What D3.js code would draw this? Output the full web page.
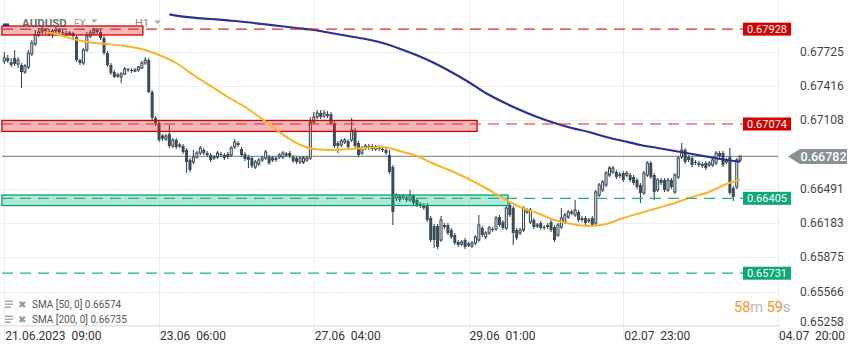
<!DOCTYPE html>
<html><head><meta charset="utf-8">
<script src="https://cdn.jsdelivr.net/npm/d3@7"></script>
<style>
body{margin:0;background:#fff;}
svg{display:block;font-family:Roboto,"Noto Sans",sans-serif;}
</style>
</head><body>
<svg id="c" width="859" height="352"></svg>
<script>
// ---------------- DATA ----------------
const open=[
0.67641,0.67668,0.67632,0.67668,0.67614,0.67605,0.67542,0.67587,0.67704,0.67794,
0.67875,0.67902,0.67920,0.67911,0.67893,0.67911,0.67920,0.67902,0.67893,0.67884,
0.67893,0.67857,0.67650,0.67623,0.67740,0.67866,0.67893,0.67920,0.67902,0.67848,
0.67713,0.67605,0.67542,0.67506,0.67497,0.67524,0.67569,0.67560,0.67551,0.67560,
0.67578,0.67623,0.67650,0.67362,0.67128,0.67083,0.66948,0.66939,0.66984,0.66876,
0.66930,0.66876,0.66876,0.66840,0.66750,0.66732,0.66777,0.66813,0.66840,0.66813,
0.66795,0.66768,0.66777,0.66804,0.66795,0.66804,0.66795,0.66867,0.66903,0.66849,
0.66804,0.66777,0.66768,0.66687,0.66714,0.66750,0.66768,0.66777,0.66750,0.66768,
0.66777,0.66777,0.66795,0.66813,0.66777,0.66768,0.66732,0.66732,0.66750,0.66768,
0.67092,0.67137,0.67173,0.67146,0.67164,0.67164,0.67083,0.66903,0.66885,0.66912,
0.66921,0.66930,0.67020,0.66903,0.66813,0.66858,0.66876,0.66876,0.66849,0.66867,
0.66849,0.66840,0.66795,0.66687,0.66408,0.66426,0.66408,0.66417,0.66390,0.66426,
0.66390,0.66354,0.66345,0.66345,0.66228,0.66156,0.66156,0.66030,0.66165,0.66165,
0.66120,0.66075,0.66012,0.65994,0.66030,0.65985,0.65976,0.66003,0.66030,0.66138,
0.66057,0.66093,0.66129,0.66129,0.66237,0.66192,0.66138,0.66345,0.66318,0.66120,
0.66093,0.66120,0.66282,0.66192,0.66210,0.66156,0.66183,0.66147,0.66165,0.66192,
0.66147,0.66075,0.66147,0.66192,0.66237,0.66273,0.66255,0.66282,0.66228,0.66228,
0.66201,0.66228,0.66183,0.66435,0.66480,0.66525,0.66615,0.66642,0.66642,0.66624,
0.66633,0.66615,0.66615,0.66597,0.66570,0.66525,0.66453,0.66615,0.66723,0.66615,
0.66480,0.66570,0.66570,0.66480,0.66570,0.66462,0.66597,0.66777,0.66840,0.66777,
0.66768,0.66732,0.66723,0.66714,0.66723,0.66705,0.66705,0.66723,0.66813,0.66813,
0.66732,0.66777,0.66498,0.66507,0.66750];
const high=[
0.67722,0.67695,0.67668,0.67740,0.67677,0.67623,0.67614,0.67740,0.67830,0.67920,
0.67938,0.67947,0.67938,0.67929,0.67929,0.67947,0.67938,0.67920,0.67911,0.67911,
0.67902,0.67875,0.67659,0.67758,0.67902,0.67920,0.67938,0.67938,0.67920,0.67866,
0.67731,0.67623,0.67560,0.67533,0.67542,0.67587,0.67578,0.67578,0.67578,0.67596,
0.67641,0.67677,0.67668,0.67380,0.67146,0.67101,0.66984,0.66984,0.67065,0.66948,
0.66948,0.66903,0.66894,0.66858,0.66768,0.66840,0.66831,0.66876,0.66858,0.66831,
0.66813,0.66795,0.66831,0.66822,0.66813,0.66822,0.66876,0.66939,0.66921,0.66867,
0.66822,0.66795,0.66786,0.66750,0.66768,0.66786,0.66840,0.66795,0.66786,0.66786,
0.66813,0.66831,0.66822,0.66831,0.66795,0.66786,0.66786,0.66786,0.66786,0.67137,
0.67182,0.67200,0.67200,0.67200,0.67191,0.67182,0.67101,0.66921,0.66939,0.66948,
0.66939,0.67128,0.67038,0.66921,0.66876,0.66894,0.66894,0.66894,0.66885,0.66885,
0.66867,0.66858,0.66840,0.66705,0.66453,0.66444,0.66444,0.66435,0.66480,0.66444,
0.66408,0.66372,0.66363,0.66363,0.66246,0.66174,0.66174,0.66246,0.66183,0.66183,
0.66138,0.66093,0.66030,0.66030,0.66048,0.66012,0.66021,0.66075,0.66255,0.66156,
0.66111,0.66156,0.66147,0.66246,0.66255,0.66210,0.66345,0.66363,0.66336,0.66138,
0.66138,0.66336,0.66318,0.66318,0.66228,0.66183,0.66201,0.66165,0.66183,0.66210,
0.66165,0.66183,0.66318,0.66273,0.66300,0.66300,0.66390,0.66300,0.66246,0.66246,
0.66228,0.66246,0.66480,0.66543,0.66570,0.66651,0.66696,0.66696,0.66660,0.66642,
0.66651,0.66651,0.66633,0.66615,0.66588,0.66543,0.66651,0.66741,0.66741,0.66633,
0.66588,0.66588,0.66588,0.66588,0.66588,0.66633,0.66786,0.66903,0.66858,0.66795,
0.66786,0.66750,0.66741,0.66732,0.66741,0.66741,0.66768,0.66831,0.66831,0.66831,
0.66768,0.66858,0.66516,0.66768,0.66795];
const low=[
0.67614,0.67623,0.67587,0.67596,0.67578,0.67398,0.67524,0.67569,0.67686,0.67776,
0.67857,0.67884,0.67884,0.67866,0.67848,0.67893,0.67884,0.67875,0.67866,0.67875,
0.67848,0.67632,0.67605,0.67605,0.67722,0.67848,0.67875,0.67884,0.67830,0.67695,
0.67587,0.67515,0.67488,0.67488,0.67443,0.67515,0.67542,0.67533,0.67542,0.67542,
0.67569,0.67605,0.67353,0.67110,0.67056,0.66912,0.66921,0.66921,0.66858,0.66858,
0.66849,0.66858,0.66804,0.66633,0.66642,0.66714,0.66759,0.66795,0.66795,0.66777,
0.66732,0.66750,0.66759,0.66777,0.66750,0.66759,0.66777,0.66849,0.66867,0.66777,
0.66741,0.66678,0.66678,0.66669,0.66696,0.66732,0.66750,0.66705,0.66732,0.66732,
0.66759,0.66759,0.66777,0.66768,0.66723,0.66714,0.66714,0.66714,0.66732,0.66750,
0.67074,0.67119,0.67119,0.67128,0.67128,0.67065,0.66858,0.66813,0.66867,0.66894,
0.66849,0.66912,0.66858,0.66777,0.66795,0.66840,0.66840,0.66831,0.66831,0.66831,
0.66822,0.66795,0.66624,0.66165,0.66381,0.66372,0.66390,0.66372,0.66372,0.66345,
0.66327,0.66318,0.66300,0.66192,0.66012,0.65958,0.65949,0.66012,0.66129,0.66075,
0.66039,0.65985,0.65967,0.65976,0.65949,0.65967,0.65958,0.65985,0.66012,0.66057,
0.66039,0.66075,0.66102,0.66111,0.66147,0.66120,0.66120,0.66237,0.65985,0.66030,
0.66075,0.66102,0.66264,0.66174,0.66129,0.66138,0.66120,0.66120,0.66129,0.66102,
0.66012,0.66057,0.66129,0.66174,0.66219,0.66255,0.66237,0.66192,0.66192,0.66165,
0.66183,0.66147,0.66165,0.66417,0.66462,0.66507,0.66597,0.66624,0.66579,0.66588,
0.66552,0.66597,0.66552,0.66525,0.66489,0.66363,0.66435,0.66597,0.66579,0.66390,
0.66462,0.66525,0.66462,0.66462,0.66489,0.66444,0.66579,0.66759,0.66714,0.66732,
0.66687,0.66705,0.66687,0.66678,0.66660,0.66687,0.66687,0.66705,0.66768,0.66687,
0.66714,0.66435,0.66381,0.66489,0.66732];
const close=[
0.67668,0.67641,0.67605,0.67614,0.67650,0.67542,0.67596,0.67713,0.67803,0.67875,
0.67902,0.67920,0.67911,0.67893,0.67911,0.67920,0.67902,0.67893,0.67884,0.67893,
0.67866,0.67650,0.67623,0.67740,0.67866,0.67893,0.67920,0.67902,0.67848,0.67713,
0.67605,0.67533,0.67497,0.67515,0.67524,0.67569,0.67560,0.67551,0.67560,0.67587,
0.67623,0.67650,0.67362,0.67128,0.67083,0.66930,0.66966,0.66966,0.66876,0.66930,
0.66867,0.66885,0.66822,0.66732,0.66660,0.66777,0.66813,0.66858,0.66813,0.66795,
0.66750,0.66777,0.66813,0.66795,0.66768,0.66777,0.66858,0.66912,0.66885,0.66795,
0.66759,0.66750,0.66696,0.66732,0.66750,0.66768,0.66822,0.66723,0.66768,0.66750,
0.66795,0.66813,0.66804,0.66786,0.66741,0.66732,0.66768,0.66768,0.66768,0.67092,
0.67137,0.67173,0.67137,0.67173,0.67146,0.67083,0.66876,0.66876,0.66921,0.66930,
0.66867,0.67020,0.66876,0.66795,0.66858,0.66876,0.66858,0.66849,0.66867,0.66849,
0.66840,0.66813,0.66642,0.66282,0.66435,0.66390,0.66426,0.66390,0.66435,0.66363,
0.66345,0.66336,0.66318,0.66210,0.66030,0.66030,0.65967,0.66210,0.66147,0.66093,
0.66057,0.66003,0.65985,0.66012,0.65967,0.65994,0.66003,0.66057,0.66165,0.66075,
0.66093,0.66138,0.66120,0.66228,0.66165,0.66138,0.66318,0.66255,0.66093,0.66048,
0.66120,0.66318,0.66300,0.66300,0.66147,0.66165,0.66138,0.66138,0.66147,0.66120,
0.66030,0.66165,0.66228,0.66255,0.66282,0.66282,0.66300,0.66210,0.66210,0.66183,
0.66210,0.66165,0.66462,0.66525,0.66552,0.66633,0.66678,0.66678,0.66597,0.66606,
0.66570,0.66633,0.66570,0.66543,0.66507,0.66453,0.66633,0.66723,0.66597,0.66462,
0.66570,0.66543,0.66480,0.66570,0.66507,0.66615,0.66768,0.66840,0.66732,0.66750,
0.66705,0.66723,0.66705,0.66696,0.66678,0.66723,0.66750,0.66813,0.66786,0.66705,
0.66750,0.66453,0.66417,0.66750,0.66782];

const sma50Index=[12,15,20,25,30,35,40,45,50,55,60,65,70,75,80,85,90,95,100,105,110,115,120,125,130,135,140,145,150,155,160,165,170,175,180,185,190,195,200,205,210,214];
const sma50=[0.67902,0.67884,0.67839,0.67808,0.67794,0.67776,0.67749,0.67695,0.67623,0.67515,0.67416,0.67317,0.67227,0.67119,0.67002,0.66903,0.66849,0.66840,0.66849,0.66858,0.66867,0.66831,0.66786,0.66714,0.66651,0.66579,0.66498,0.66408,0.66327,0.66273,0.66210,0.66174,0.66156,0.66174,0.66228,0.66273,0.66318,0.66363,0.66417,0.66462,0.66534,0.66574];
const sma200Index=[48,50,55,60,65,70,75,80,85,90,95,100,105,110,115,120,125,130,135,140,145,150,155,160,165,170,175,180,185,190,195,200,205,210,214];
const sma200=[0.68060,0.68050,0.68032,0.68019,0.68006,0.67992,0.67974,0.67956,0.67938,0.67920,0.67893,0.67866,0.67839,0.67803,0.67752,0.67692,0.67623,0.67542,0.67452,0.67353,0.67272,0.67200,0.67137,0.67083,0.67038,0.67002,0.66957,0.66921,0.66885,0.66858,0.66831,0.66804,0.66777,0.66750,0.66735];

const xTickIndex=[0,45,90,135,180,225];
const xTickLabels=["21.06.2023  09:00","23.06  06:00","27.06  04:00","29.06  01:00","02.07  23:00","04.07  20:00"];
const yTicks=[0.67725,0.67416,0.67108,0.66491,0.66183,0.65875,0.65566,0.65258];
const yTickLabels=["0.67725","0.67416","0.67108","0.66491","0.66183","0.65875","0.65566","0.65258"];

const levelValues=[0.67928,0.67074,0.66405,0.65731];
const levelLabels=["0.67928","0.67074","0.66405","0.65731"];
const levelKinds=["sell","sell","buy","buy"];
const zoneTop=[0.67956,0.67106,0.66435];
const zoneBottom=[0.67875,0.67007,0.66340];
const zoneStart=[-0.7,-0.7,-0.7];
const zoneEnd=[40.3,137.5,146.5];
const zoneKinds=["sell","sell","buy"];
const lastPrice=0.66782;
const lastLabel="0.66782";
const legendLabels=["SMA [50, 0] 0.66574","SMA [200, 0] 0.66735"];
const symbol="AUDUSD", market="FX", interval="H1";
const timerParts=[["58","num"],["m","unit"],[" 59","num"],["s","unit"]];

// ---------------- CHART ----------------
const W=859,H=352, plotRight=778, plotBottom=326, plotTop=13;
const svg=d3.select("#c");
const x=d3.scaleLinear().domain([0,225]).range([4.3,778]);
const y=d3.scaleLinear().domain([0.65256,0.68190]).range([326,0]);
const colors={sell:"#d40000",buy:"#0ea878",candle:"#3c4c57"};

svg.append("defs").append("clipPath").attr("id","plot")
  .append("rect").attr("x",0).attr("y",plotTop).attr("width",plotRight).attr("height",plotBottom-plotTop);

// grid
const grid=svg.append("g");
grid.selectAll("line.h").data(yTicks).join("line")
  .attr("x1",0).attr("x2",plotRight).attr("y1",d=>Math.round(y(d))+0.5).attr("y2",d=>Math.round(y(d))+0.5)
  .attr("stroke","#eeeeee");
grid.selectAll("line.v").data(xTickIndex).join("line")
  .attr("x1",d=>Math.round(x(d))+0.5).attr("x2",d=>Math.round(x(d))+0.5).attr("y1",0).attr("y2",plotBottom+12)
  .attr("stroke","#ececec");
grid.append("line").attr("x1",0).attr("x2",plotRight).attr("y1",plotBottom-0.5).attr("y2",plotBottom-0.5).attr("stroke","#e6e6e6");

const plot=svg.append("g").attr("clip-path","url(#plot)");

// current price line
plot.append("line").attr("x1",2).attr("x2",plotRight).attr("y1",y(lastPrice)).attr("y2",y(lastPrice))
  .attr("stroke","#8a9398").attr("stroke-width",1.3);

// candles
const idx=d3.range(close.length);
const bw=3;
const cg=plot.append("g");
cg.selectAll("line.w").data(idx).join("line")
  .attr("x1",i=>x(i)).attr("x2",i=>x(i)).attr("y1",i=>y(high[i])).attr("y2",i=>y(low[i]))
  .attr("stroke",colors.candle).attr("stroke-width",1.1);
cg.selectAll("rect.b").data(idx).join("rect")
  .attr("x",i=>close[i]>=open[i]? x(i)-bw/2+0.5 : x(i)-bw/2)
  .attr("width",i=>close[i]>=open[i]? bw-1 : bw)
  .attr("y",i=>y(Math.max(open[i],close[i])))
  .attr("height",i=>Math.max(1,Math.abs(y(open[i])-y(close[i]))))
  .attr("fill",i=>close[i]>=open[i]?"#ffffff":colors.candle)
  .attr("stroke",i=>close[i]>=open[i]?colors.candle:"none").attr("stroke-width",1.1);

// zones
plot.selectAll("rect.z").data(d3.range(zoneTop.length)).join("rect")
  .attr("x",i=>x(zoneStart[i])).attr("width",i=>x(zoneEnd[i])-x(zoneStart[i]))
  .attr("y",i=>y(zoneTop[i])).attr("height",i=>y(zoneBottom[i])-y(zoneTop[i]))
  .attr("fill",i=>zoneKinds[i]==="sell"?"rgba(226,40,40,0.33)":"rgba(20,190,130,0.32)")
  .attr("stroke",i=>zoneKinds[i]==="sell"?"#d40000":"#10a070").attr("stroke-width",1.3);

// SMA lines
const line50=d3.line().x((d,k)=>x(sma50Index[k])).y(d=>y(d)).curve(d3.curveMonotoneX);
const line200=d3.line().x((d,k)=>x(sma200Index[k])).y(d=>y(d)).curve(d3.curveMonotoneX);
plot.append("path").attr("d",line50(sma50)).attr("fill","none").attr("stroke","#f7b52c").attr("stroke-width",2);
plot.append("path").attr("d",line200(sma200)).attr("fill","none").attr("stroke","#2b3190").attr("stroke-width",2.2);

// level dashed lines
svg.selectAll("line.lvl").data(d3.range(levelValues.length)).join("line")
  .attr("x1",2).attr("x2",743).attr("y1",i=>y(levelValues[i])).attr("y2",i=>y(levelValues[i]))
  .attr("stroke",i=>levelKinds[i]==="sell"?"#dd2a2a":"#1fb585").attr("stroke-width",1.2)
  .attr("stroke-dasharray","11,7");

// y tick labels
svg.selectAll("text.yt").data(yTicks).join("text")
  .attr("x",800).attr("y",d=>Math.min(y(d),322)).attr("dy","0.35em")
  .attr("font-size",12).attr("fill","#444").text((d,k)=>yTickLabels[k]);

// level labels
const lg=svg.selectAll("g.lvlab").data(d3.range(levelValues.length)).join("g")
  .attr("transform",i=>`translate(743,${y(levelValues[i])})`);
lg.append("rect").attr("x",0).attr("y",-6.5).attr("width",48).attr("height",13)
  .attr("fill",i=>levelKinds[i]==="sell"?colors.sell:colors.buy);
lg.append("text").attr("x",24).attr("y",0).attr("dy","0.35em").attr("text-anchor","middle")
  .attr("font-size",11).attr("fill","#fff").text(i=>levelLabels[i]);

// last price label
const ly=y(lastPrice);
svg.append("path").attr("d",`M788,${ly} L800,${ly-7.5} L847,${ly-7.5} L847,${ly+7.5} L800,${ly+7.5} Z`).attr("fill","#879196");
svg.append("text").attr("x",823.5).attr("y",ly).attr("dy","0.36em").attr("text-anchor","middle")
  .attr("font-size",12.5).attr("font-weight",500).attr("fill","#fff").text(lastLabel);

// x tick labels
svg.selectAll("text.xt").data(xTickIndex).join("text")
  .attr("x",(d,k)=>x(d)+1).attr("y",340).attr("font-size",12).attr("fill","#333")
  .style("white-space","pre").attr("xml:space","preserve").text((d,k)=>xTickLabels[k]);

// legend
const leg=svg.selectAll("g.leg").data(legendLabels).join("g").attr("transform",(d,k)=>`translate(5,${304+k*15})`);
leg.each(function(){
  const g=d3.select(this);
  [-3,0,3].forEach(o=>g.append("rect").attr("x",0).attr("y",o-0.5).attr("width",o===3?6:8).attr("height",1.5).attr("fill","#aaa"));
  g.append("text").attr("x",13).attr("y",0).attr("dy","0.35em").attr("font-size",10).attr("fill","#999").text("✖");
});
leg.append("text").attr("x",27).attr("y",0).attr("dy","0.35em").attr("font-size",10).attr("fill","#555").text(d=>d);

// timer
const tt=svg.append("text").attr("x",734).attr("y",307).attr("dy","0.35em").attr("font-size",14.5);
timerParts.forEach(p=>tt.append("tspan").attr("fill",p[1]==="num"?"#f7941d":"#b8b8b8").style("white-space","pre").text(p[0]));

// header
svg.append("rect").attr("x",3).attr("y",23.5).attr("width",6).attr("height",2.5).attr("fill","#2e3192");
svg.append("text").attr("x",22).attr("y",23).attr("dy","0.35em").attr("font-size",11.5).attr("font-weight",700).attr("fill","#5a5a5a").attr("opacity",0.85).text(symbol);
svg.append("text").attr("x",74).attr("y",23).attr("dy","0.35em").attr("font-size",10).attr("fill","#9a9a9a").text(market);
svg.append("path").attr("d","M91,19.5 L97.5,19.5 L94.25,23 Z").attr("fill","#aaa");
svg.append("text").attr("x",135).attr("y",23).attr("dy","0.35em").attr("font-size",11).attr("fill","#8a8a8a").text(interval);
svg.append("path").attr("d","M154,20.5 L161,20.5 L157.5,24 Z").attr("fill","#aaa");
</script>
</body></html>
